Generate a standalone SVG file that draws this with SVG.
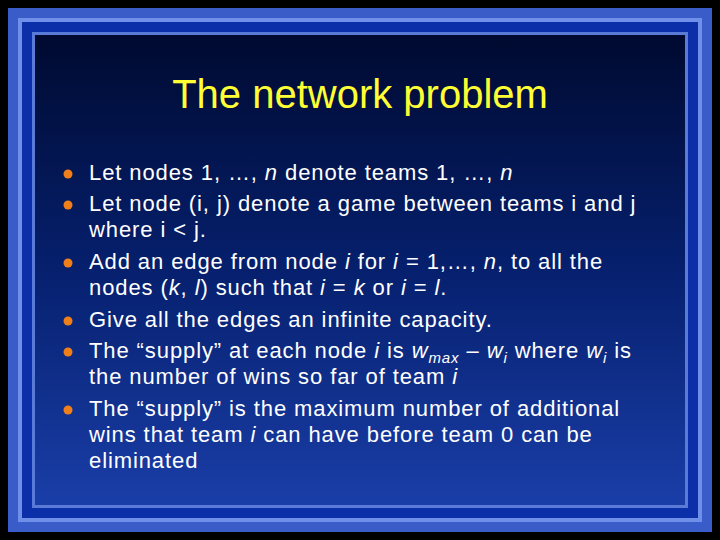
<svg xmlns="http://www.w3.org/2000/svg" width="720" height="540" viewBox="0 0 720 540">
<defs>
<linearGradient id="bg" x1="0" y1="0" x2="0" y2="1">
<stop offset="0" stop-color="#000a30"/><stop offset="0.5" stop-color="#06206e"/><stop offset="1" stop-color="#1a3ea8"/>
</linearGradient>
<style>
.t{font-family:"Liberation Sans",Arial,sans-serif;font-size:22px;letter-spacing:0.9px;fill:#fff}
.b{fill:#f07f1a}
</style>
</defs>
<rect width="720" height="540" fill="#000"/>
<rect x="8" y="8" width="704" height="524" fill="#3a5cc8"/>
<rect x="18" y="18" width="684" height="504" fill="#6f8fe8"/>
<rect x="22" y="22" width="676" height="496" fill="#0a2fa8"/>
<rect x="32" y="32" width="656" height="476" fill="#5a7ad8"/>
<rect x="35" y="35" width="650" height="470" fill="url(#bg)"/>
<text x="360" y="108" text-anchor="middle" font-family="Liberation Sans,Arial,sans-serif" font-size="40" fill="#ffff33">The network problem</text>
<g>
<circle class="b" cx="68" cy="174" r="4.5"/><circle class="b" cx="68" cy="205" r="4.5"/><circle class="b" cx="68" cy="263" r="4.5"/><circle class="b" cx="68" cy="321" r="4.5"/><circle class="b" cx="68" cy="352" r="4.5"/><circle class="b" cx="68" cy="410" r="4.5"/>
</g>
<g class="t">
<text x="89" y="180" class="t">Let nodes 1, …, <tspan font-style="italic">n</tspan> denote teams 1, …, <tspan font-style="italic">n</tspan></text>
<text x="89" y="211" class="t">Let node (i, j) denote a game between teams i and j</text>
<text x="89" y="237" class="t">where i &lt; j.</text>
<text x="89" y="269" class="t">Add an edge from node <tspan font-style="italic">i</tspan> for <tspan font-style="italic">i</tspan> = 1,…, <tspan font-style="italic">n</tspan>, to all the</text>
<text x="89" y="295" class="t">nodes (<tspan font-style="italic">k</tspan>, <tspan font-style="italic">l</tspan>) such that <tspan font-style="italic">i</tspan> = <tspan font-style="italic">k</tspan> or <tspan font-style="italic">i</tspan> = <tspan font-style="italic">l</tspan>.</text>
<text x="89" y="327" class="t">Give all the edges an infinite capacity.</text>
<text x="89" y="358" class="t">The “supply” at each node <tspan font-style="italic">i</tspan> is <tspan font-style="italic">w</tspan><tspan font-style="italic" font-size="15" dy="5">max</tspan><tspan dy="-5"> – </tspan><tspan font-style="italic">w</tspan><tspan font-style="italic" font-size="15" dy="5">i</tspan><tspan dy="-5"> where </tspan><tspan font-style="italic">w</tspan><tspan font-style="italic" font-size="15" dy="5">i</tspan><tspan dy="-5"> is</tspan></text>
<text x="89" y="384" class="t">the number of wins so far of team <tspan font-style="italic">i</tspan></text>
<text x="89" y="416" class="t">The “supply” is the maximum number of additional</text>
<text x="89" y="442" class="t">wins that team <tspan font-style="italic">i</tspan> can have before team 0 can be</text>
<text x="89" y="468" class="t">eliminated</text>
</g>
</svg>
